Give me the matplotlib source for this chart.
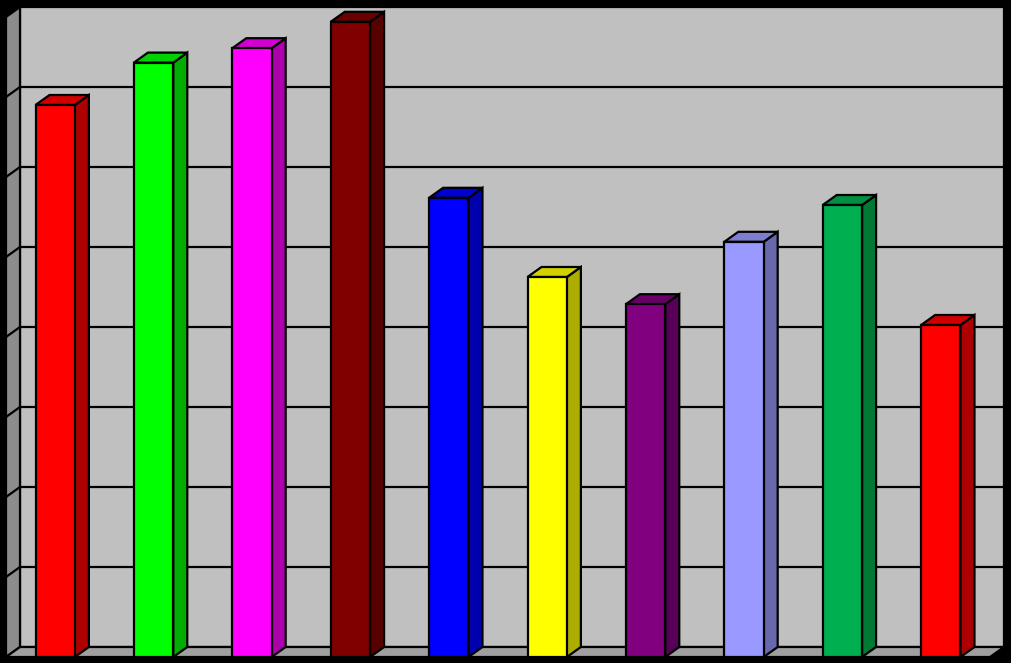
import matplotlib
matplotlib.use("Agg")
import matplotlib.pyplot as plt
from matplotlib.patches import Polygon, Rectangle
from matplotlib.colors import to_rgb

# values (gridlines every 1 unit, 0..8)
values = [6.9, 7.43, 7.61, 7.94, 5.74, 4.75, 4.41, 5.19, 5.65, 4.15]
colors = ['#FF0000', '#00FF00', '#FF00FF', '#800000', '#0000FF',
          '#FFFF00', '#800080', '#9999FF', '#00B050', '#FF0000']
y_max = 8
n = len(values)


def shade(c, f):
    r, g, b = to_rgb(c)
    return (r * f, g * f, b * f)


fig = plt.figure(figsize=(10.11, 6.63), dpi=100, facecolor='black')
ax = fig.add_axes([6 / 1011, 6 / 663, 984 / 1011, 640 / 663])
ax.set_xlim(0, n)
ax.set_ylim(0, y_max)
ax.set_axis_off()

# depth of the 3d box, in data units (about 14px right, 10px up)
dx = 14 / (984 / n)
dy = 10 / (640 / y_max)
lw = 1.6

# walls and floor
ax.add_patch(Rectangle((dx, dy), n, y_max, facecolor='#C0C0C0',
                       edgecolor='black', lw=lw, clip_on=False, zorder=1))
ax.add_patch(Polygon([(0, 0), (dx, dy), (dx, y_max + dy), (0, y_max)],
                     facecolor='#8C8C8C', edgecolor='black', lw=lw,
                     clip_on=False, zorder=1))
ax.add_patch(Polygon([(0, 0), (n, 0), (n + dx, dy), (dx, dy)],
                     facecolor='#A0A0A0', edgecolor='black', lw=lw,
                     clip_on=False, zorder=1))

# gridlines on back wall and side wall
for g in range(1, y_max):
    ax.plot([dx, n + dx], [g + dy, g + dy], color='black', lw=lw,
            clip_on=False, zorder=2)
    ax.plot([0, dx], [g, g + dy], color='black', lw=lw,
            clip_on=False, zorder=2)

# 3d bars
w = 0.4
for i, (v, c) in enumerate(zip(values, colors)):
    x0 = i + 0.3
    ax.add_patch(Polygon([(x0 + w, 0), (x0 + w + dx, dy),
                          (x0 + w + dx, v + dy), (x0 + w, v)],
                         facecolor=shade(c, 0.68), edgecolor='black', lw=lw,
                         clip_on=False, zorder=3))
    ax.add_patch(Polygon([(x0, v), (x0 + dx, v + dy),
                          (x0 + w + dx, v + dy), (x0 + w, v)],
                         facecolor=shade(c, 0.82), edgecolor='black', lw=lw,
                         clip_on=False, zorder=3))
    ax.add_patch(Rectangle((x0, 0), w, v, facecolor=c, edgecolor='black',
                           lw=lw, clip_on=False, zorder=4))

fig.savefig('out.png', dpi=100, facecolor='black')
